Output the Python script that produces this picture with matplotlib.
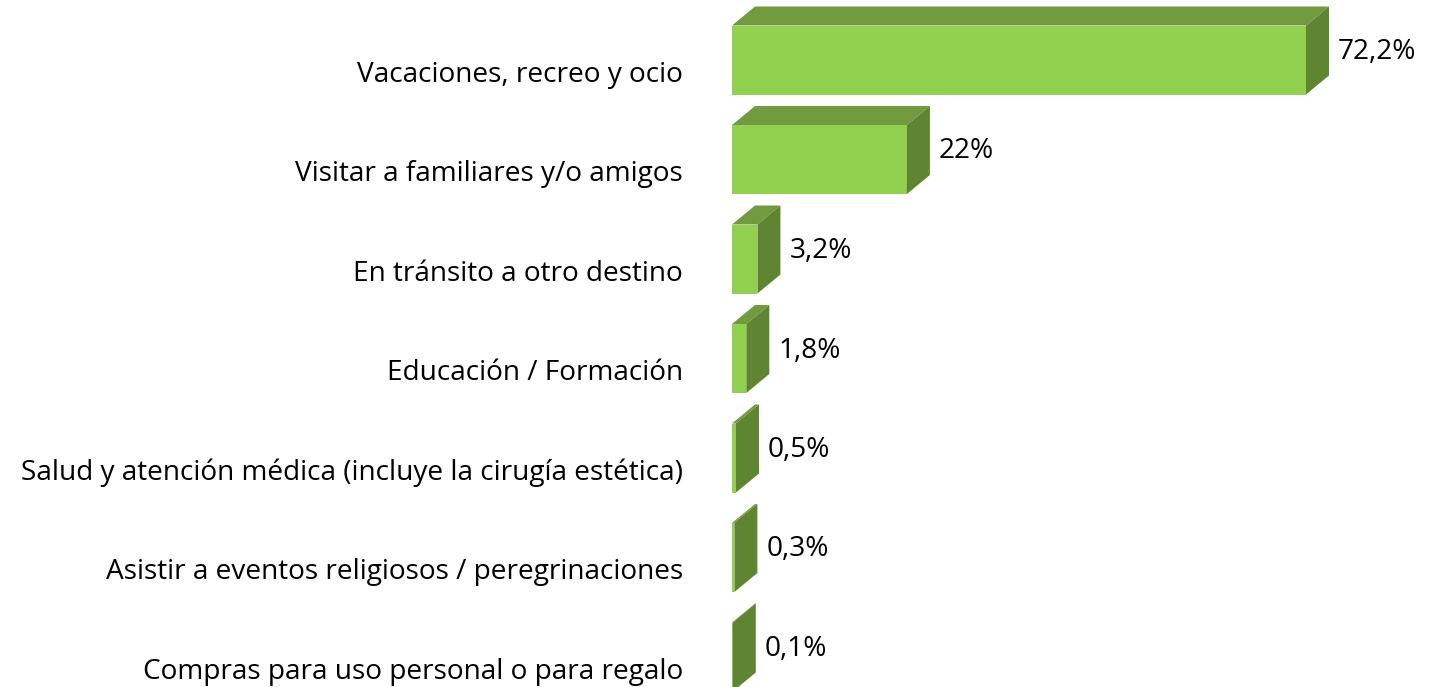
import matplotlib
matplotlib.use('Agg')
import matplotlib.pyplot as plt
from matplotlib.patches import Polygon

# datos
categorias = ['Vacaciones, recreo y ocio',
              'Visitar a familiares y/o amigos',
              'En tránsito a otro destino',
              'Educación / Formación',
              'Salud y atención médica (incluye la cirugía estética)',
              'Asistir a eventos religiosos / peregrinaciones',
              'Compras para uso personal o para regalo']
valores = [72.2, 22.0, 3.2, 1.8, 0.5, 0.3, 0.1]
etiquetas = ['72,2%', '22%', '3,2%', '1,8%', '0,5%', '0,3%', '0,1%']

c_front = '#92D050'
c_top = '#719B3E'
c_side = '#5F8532'

W, H = 1430, 687
px_per_pct = 7.95
x0_px = 732
pitch = 99.5
y0_px = 60

fig = plt.figure(figsize=(W / 100, H / 100), dpi=100)
ax = fig.add_axes([0, 0, 1, 1])
ax.set_xlim(-x0_px / px_per_pct, (W - x0_px) / px_per_pct)
ax.set_ylim((H - y0_px) / pitch, -y0_px / pitch)
ax.axis('off')

dx = 23 / px_per_pct     # profundidad en x
dy = -19 / pitch         # profundidad en y
hh = 34.5 / pitch        # media altura de la barra

for i, (cat, v, lab) in enumerate(zip(categorias, valores, etiquetas)):
    top, bot = i - hh, i + hh
    # cara frontal
    ax.add_patch(Polygon([(0, top), (v, top), (v, bot), (0, bot)],
                         closed=True, facecolor=c_front, edgecolor='none'))
    # cara superior
    ax.add_patch(Polygon([(0, top), (v, top), (v + dx, top + dy), (dx, top + dy)],
                         closed=True, facecolor=c_top, edgecolor='none'))
    # cara lateral
    ax.add_patch(Polygon([(v, top), (v + dx, top + dy), (v + dx, bot + dy), (v, bot)],
                         closed=True, facecolor=c_side, edgecolor='none'))
    ax.text(-49 / px_per_pct, i + 15 / pitch, cat, ha='right', va='center',
            fontsize=20.2, family='Open Sans', color='black')
    ax.text(v + dx + 9 / px_per_pct, i - 8 / pitch, lab, ha='left', va='center',
            fontsize=20.2, family='Open Sans', color='black')

fig.savefig('out.png', dpi=100, facecolor='white')
